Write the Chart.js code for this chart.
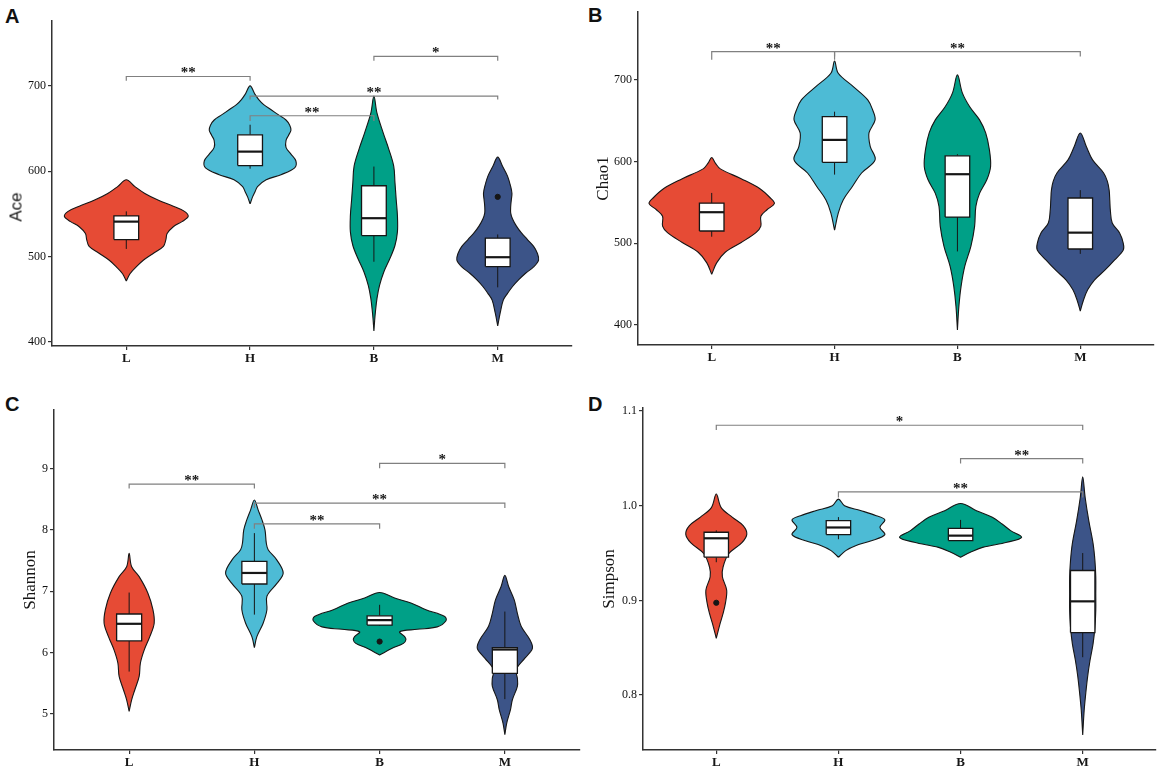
<!DOCTYPE html>
<html><head><meta charset="utf-8">
<script src="https://cdn.jsdelivr.net/npm/chart.js@4.4.0/dist/chart.umd.min.js"></script>
<style>
html,body{margin:0;padding:0;background:#fff}
body{width:1170px;height:776px;position:relative;overflow:hidden}
.panel{position:absolute}
.tag{position:absolute;font:bold 20px 'Liberation Sans',Arial,sans-serif;color:#111;line-height:1}
.ytitle{position:absolute;font:17px 'Liberation Sans',Arial,sans-serif;color:#161616;line-height:1;
  transform:translate(-50%,-50%) rotate(-90deg);white-space:nowrap}
</style></head><body>
<div class="tag" style="left:5px;top:6px">A</div>
<div class="tag" style="left:588px;top:5px">B</div>
<div class="tag" style="left:5px;top:394px">C</div>
<div class="tag" style="left:588px;top:394px">D</div>
<div class="panel" style="left:0;top:0"><canvas id="cA" width="585" height="378"></canvas></div>
<div class="panel" style="left:585px;top:0"><canvas id="cB" width="585" height="378"></canvas></div>
<div class="panel" style="left:0;top:390px"><canvas id="cC" width="585" height="386"></canvas></div>
<div class="panel" style="left:585px;top:390px"><canvas id="cD" width="585" height="386"></canvas></div>
<div class="ytitle" style="left:16px;top:207px">Ace</div>
<script>
// ---------- shared ----------
const categories = ['L', 'H', 'B', 'M'];
const categoryPositions = [1, 2, 3, 4];

// ---------- Panel A : Ace ----------
const aceViolinY = [
  [471.5, 480, 488, 496, 504, 512, 520, 527, 535, 541, 547, 553, 559, 566, 574, 582, 590],
  [561.8, 570, 576, 582, 590, 596, 604, 612, 620, 628, 636, 642, 648, 654, 660, 666, 672, 678, 684, 690, 700],
  [413, 425, 435, 451, 466, 482, 498, 513, 529, 548, 567, 587, 606, 626, 645, 668, 688],
  [418.8, 434, 449, 457, 465, 473, 480.5, 488, 496, 504, 512, 520, 528, 536, 544, 551, 559, 566.5, 574, 582, 594, 605.5, 616.5]
];
const aceViolinHalfWidth = [
  [0, 0.03, 0.08, 0.14, 0.22, 0.3, 0.32, 0.33, 0.38, 0.45, 0.5, 0.47, 0.38, 0.26, 0.15, 0.07, 0],
  [0, 0.02, 0.04, 0.06, 0.13, 0.25, 0.36, 0.37, 0.33, 0.29, 0.29, 0.31, 0.33, 0.32, 0.29, 0.23, 0.17, 0.11, 0.07, 0.04, 0],
  [0, 0.006, 0.012, 0.025, 0.045, 0.08, 0.13, 0.17, 0.19, 0.19, 0.18, 0.17, 0.16, 0.12, 0.075, 0.025, 0],
  [0, 0.02, 0.045, 0.08, 0.12, 0.17, 0.225, 0.29, 0.33, 0.32, 0.29, 0.24, 0.19, 0.15, 0.12, 0.105, 0.105, 0.11, 0.115, 0.105, 0.08, 0.04, 0]
];
const aceBoxStats = [ // [lower whisker, Q1, median, Q3, upper whisker]
  [509, 520, 541, 547.7, 553],
  [603, 606.7, 623, 642.7, 654.5],
  [494, 524.6, 545, 583, 605.5],
  [464, 488.3, 499.3, 521.6, 526]
];
const aceOutlierGroup = [4];
const aceOutlierValue = [570];
const aceBracketFrom = [1, 3, 2, 2];
const aceBracketTo = [2, 4, 4, 3];
const aceBracketY = [711, 734.5, 688, 665];
const aceBracketDrop = [5, 5, 4, 6];
const aceBracketLabel = ['**', '*', '**', '**'];
const aceTicks = [400, 500, 600, 700];
const aceTickLabels = ['400', '500', '600', '700'];

// ---------- Panel B : Chao1 ----------
const chaoViolinY = [
  [462, 476, 489, 501, 513, 521, 533, 541, 548.5, 555, 567, 579, 591, 598, 605],
  [516, 537, 553, 569.5, 586, 602, 618.6, 635, 651, 663, 675.5, 692, 708, 723],
  [394, 423, 447.6, 472, 496.6, 521, 545, 561, 578, 594, 614.6, 635, 651, 667, 684, 706],
  [417, 430, 443, 455, 467, 479.6, 491.8, 500, 512.6, 524.8, 540, 553, 565, 576, 586, 602, 618, 635]
];
const chaoViolinHalfWidth = [
  [0, 0.04, 0.11, 0.24, 0.36, 0.4, 0.4, 0.45, 0.51, 0.48, 0.39, 0.24, 0.07, 0.03, 0],
  [0, 0.03, 0.07, 0.145, 0.22, 0.33, 0.29, 0.28, 0.33, 0.31, 0.27, 0.15, 0.03, 0],
  [0, 0.012, 0.03, 0.06, 0.11, 0.14, 0.15, 0.18, 0.24, 0.27, 0.26, 0.23, 0.18, 0.1, 0.04, 0],
  [0, 0.025, 0.06, 0.115, 0.2, 0.28, 0.35, 0.35, 0.32, 0.26, 0.245, 0.24, 0.235, 0.22, 0.19, 0.1, 0.05, 0]
];
const chaoBoxStats = [
  [508, 515, 538, 549, 561.6],
  [584, 599, 626.5, 655, 661],
  [490, 532, 584.5, 607, 609],
  [487, 493, 513, 555.4, 565]
];
const chaoOutlierGroup = [];
const chaoOutlierValue = [];
const chaoBracketFrom = [1, 2];
const chaoBracketTo = [2, 4];
const chaoBracketY = [734.5, 734.5];
const chaoBracketDrop = [10, 6];
const chaoBracketLabel = ['**', '**'];
const chaoTicks = [400, 500, 600, 700];
const chaoTickLabels = ['400', '500', '600', '700'];

// ---------- Panel C : Shannon ----------
const shannonViolinY = [
  [5.04, 5.23, 5.39, 5.61, 5.83, 6.04, 6.26, 6.48, 6.70, 6.97, 7.24, 7.40, 7.62],
  [6.08, 6.26, 6.48, 6.70, 6.92, 7.13, 7.30, 7.51, 7.68, 7.79, 8.0, 8.17, 8.33, 8.49],
  [5.96, 6.07, 6.15, 6.21, 6.26, 6.34, 6.38, 6.42, 6.52, 6.59, 6.70, 6.81, 6.89, 6.98],
  [4.66, 4.85, 5.07, 5.23, 5.45, 5.58, 5.72, 5.91, 6.07, 6.21, 6.43, 6.64, 6.86, 7.08, 7.26]
];
const shannonViolinHalfWidth = [
  [0, 0.02, 0.045, 0.08, 0.09, 0.12, 0.165, 0.2, 0.19, 0.15, 0.08, 0.02, 0],
  [0, 0.02, 0.07, 0.1, 0.1, 0.18, 0.23, 0.18, 0.11, 0.095, 0.085, 0.06, 0.03, 0],
  [0, 0.1, 0.19, 0.21, 0.2, 0.16, 0.3, 0.46, 0.53, 0.52, 0.37, 0.25, 0.12, 0],
  [0, 0.015, 0.045, 0.06, 0.1, 0.1, 0.09, 0.16, 0.22, 0.2, 0.13, 0.1, 0.075, 0.03, 0]
];
const shannonBoxStats = [
  [5.69, 6.19, 6.47, 6.63, 6.98],
  [6.62, 7.12, 7.30, 7.49, 7.95],
  [6.44, 6.45, 6.53, 6.60, 6.78],
  [5.24, 5.66, 6.05, 6.08, 6.67]
];
const shannonOutlierGroup = [3];
const shannonOutlierValue = [6.18];
const shannonBracketFrom = [1, 3, 2, 2];
const shannonBracketTo = [2, 4, 4, 3];
const shannonBracketY = [8.75, 9.09, 8.44, 8.10];
const shannonBracketDrop = [0.07, 0.08, 0.08, 0.08];
const shannonBracketLabel = ['**', '*', '**', '**'];
const shannonTicks = [5, 6, 7, 8, 9];
const shannonTickLabels = ['5', '6', '7', '8', '9'];

// ---------- Panel D : Simpson ----------
const simpsonViolinY = [
  [0.860, 0.875, 0.886, 0.898, 0.911, 0.925, 0.935, 0.949, 0.961, 0.970, 0.979, 0.988, 0.998, 1.0123],
  [0.9456, 0.9526, 0.958, 0.963, 0.9695, 0.977, 0.985, 0.9895, 0.995, 1.0, 1.007],
  [0.9456, 0.9508, 0.956, 0.9614, 0.9667, 0.9737, 0.9807, 0.9877, 0.9947, 1.0024],
  [0.758, 0.784, 0.8018, 0.8193, 0.8368, 0.8544, 0.872, 0.8895, 0.907, 0.9245, 0.942, 0.96, 0.984, 1.0087, 1.0305]
];
const simpsonViolinHalfWidth = [
  [0, 0.03, 0.055, 0.076, 0.085, 0.05, 0.055, 0.1, 0.21, 0.25, 0.22, 0.13, 0.04, 0],
  [0, 0.06, 0.145, 0.27, 0.38, 0.34, 0.38, 0.31, 0.18, 0.05, 0],
  [0, 0.08, 0.18, 0.38, 0.5, 0.41, 0.34, 0.26, 0.13, 0],
  [0, 0.012, 0.025, 0.04, 0.06, 0.085, 0.1, 0.107, 0.107, 0.107, 0.1, 0.085, 0.05, 0.02, 0]
];
const simpsonBoxStats = [
  [0.9403, 0.9456, 0.9656, 0.972, 0.974],
  [0.9646, 0.9695, 0.977, 0.9842, 0.988],
  [0.9632, 0.9632, 0.9684, 0.9761, 0.985],
  [0.840, 0.866, 0.899, 0.9316, 0.95]
];
const simpsonOutlierGroup = [1];
const simpsonOutlierValue = [0.8975];
const simpsonBracketFrom = [1, 3, 2];
const simpsonBracketTo = [4, 4, 4];
const simpsonBracketY = [1.085, 1.0498, 1.0147];
const simpsonBracketDrop = [0.005, 0.0053, 0.006];
const simpsonBracketLabel = ['*', '**', '**'];
const simpsonTicks = [0.8, 0.9, 1.0, 1.1];
const simpsonTickLabels = ['0.8', '0.9', '1.0', '1.1'];

// ---------- styling ----------
const FILL = ['#E64B35', '#4DBBD5', '#00A087', '#3C5488'];
const INK = '#161616';
const BOX_HALF = 0.1;
const SERIF = "'Liberation Serif', 'Times New Roman', serif";

function starPlugin(from, to, yv, labels) {
  return {
    id: 'sigStars',
    afterDatasetsDraw(chart) {
      const {ctx, scales} = chart;
      ctx.save();
      ctx.fillStyle = INK;
      ctx.font = 'bold 15px ' + SERIF;
      ctx.textAlign = 'center';
      ctx.textBaseline = 'alphabetic';
      labels.forEach((t, i) => {
        const px = scales.x.getPixelForValue((from[i] + to[i]) / 2);
        const py = scales.y.getPixelForValue(yv[i]);
        ctx.fillText(t, px, py + 1);
      });
      ctx.restore();
    }
  };
}

function makePanel(id, p) {
  const ds = [];
  p.violinY.forEach((ys, g) => {
    const cx = categoryPositions[g];
    const hw = p.violinW[g];
    const pts = [];
    for (let i = 0; i < ys.length; i++) pts.push({x: cx - hw[i], y: ys[i]});
    for (let i = ys.length - 2; i >= 0; i--) pts.push({x: cx + hw[i], y: ys[i]});
    ds.push({data: pts, showLine: true, fill: 'shape', backgroundColor: FILL[g], borderColor: INK,
      borderWidth: 1.1, tension: 0.35, pointRadius: 0, order: 10});
    const b = p.box[g];
    ds.push({data: [{x: cx, y: b[0]}, {x: cx, y: b[1]}], showLine: true, borderColor: INK, borderWidth: 1,
      pointRadius: 0, fill: false, order: 9});
    ds.push({data: [{x: cx, y: b[3]}, {x: cx, y: b[4]}], showLine: true, borderColor: INK, borderWidth: 1,
      pointRadius: 0, fill: false, order: 9});
    ds.push({data: [{x: cx - BOX_HALF, y: b[1]}, {x: cx + BOX_HALF, y: b[1]}, {x: cx + BOX_HALF, y: b[3]},
      {x: cx - BOX_HALF, y: b[3]}, {x: cx - BOX_HALF, y: b[1]}], showLine: true, fill: 'shape',
      backgroundColor: '#ffffff', borderColor: INK, borderWidth: 1.3, tension: 0, pointRadius: 0, order: 8});
    ds.push({data: [{x: cx - BOX_HALF, y: b[2]}, {x: cx + BOX_HALF, y: b[2]}], showLine: true, borderColor: INK,
      borderWidth: 2.2, pointRadius: 0, fill: false, order: 7});
  });
  ds.push({data: p.outG.map((g, i) => ({x: categoryPositions[g - 1], y: p.outV[i]})), showLine: false,
    pointRadius: 2.6, pointBackgroundColor: INK, pointBorderColor: INK, order: 6});
  p.bFrom.forEach((f, i) => {
    const t = p.bTo[i], y = p.bY[i], d = p.bDrop[i];
    ds.push({data: [{x: f, y: y - d}, {x: f, y: y}, {x: t, y: y}, {x: t, y: y - d}], showLine: true,
      borderColor: '#808080', borderWidth: 1.2, tension: 0, pointRadius: 0, fill: false, order: 5});
  });

  new Chart(document.getElementById(id), {
    type: 'scatter',
    data: {datasets: ds},
    plugins: [starPlugin(p.bFrom, p.bTo, p.bY, p.bLabel)],
    options: {
      responsive: false,
      animation: false,
      events: [],
      layout: {padding: {top: p.padTop, right: p.padRight, left: 0, bottom: 0}},
      plugins: {legend: {display: false}, tooltip: {enabled: false}},
      scales: {
        x: {
          type: 'linear', min: 0.4, max: 4.6,
          afterBuildTicks: s => { s.ticks = categoryPositions.map(v => ({value: v})); },
          afterFit: s => { s.height = p.xH; },
          ticks: {callback: (v) => categories[categoryPositions.indexOf(v)] || '', color: INK,
            font: {family: SERIF, size: 13, weight: 'bold'}, padding: 1, autoSkip: false, maxRotation: 0},
          grid: {display: true, drawOnChartArea: false, drawTicks: true, tickLength: 4, color: '#333', lineWidth: 1.2},
          border: {display: true, color: '#333', width: 1.5}
        },
        y: {
          type: 'linear', min: p.yMin, max: p.yMax,
          afterBuildTicks: s => { s.ticks = p.ticks.map(v => ({value: v})); },
          afterFit: s => { s.width = p.yW; },
          ticks: {callback: (v) => p.tickLabels[p.ticks.indexOf(v)] ?? '', color: '#111',
            font: {family: SERIF, size: 12}, padding: 2},
          grid: {display: true, drawOnChartArea: false, drawTicks: true, tickLength: 4, color: '#333', lineWidth: 1.2},
          border: {display: true, color: '#333', width: 1.5},
          title: {display: p.title !== '', text: p.title, color: INK, font: {family: SERIF, size: 17},
            padding: {top: p.titlePad, bottom: 0}}
        }
      }
    }
  });
}

makePanel('cA', {violinY: aceViolinY, violinW: aceViolinHalfWidth, box: aceBoxStats, outG: aceOutlierGroup,
  outV: aceOutlierValue, bFrom: aceBracketFrom, bTo: aceBracketTo, bY: aceBracketY, bDrop: aceBracketDrop,
  bLabel: aceBracketLabel, ticks: aceTicks, tickLabels: aceTickLabels, title: '', titlePad: 0,
  yMin: 395.3, yMax: 776, padTop: 21, padRight: 13, yW: 52, xH: 32});
makePanel('cB', {violinY: chaoViolinY, violinW: chaoViolinHalfWidth, box: chaoBoxStats, outG: chaoOutlierGroup,
  outV: chaoOutlierValue, bFrom: chaoBracketFrom, bTo: chaoBracketTo, bY: chaoBracketY, bDrop: chaoBracketDrop,
  bLabel: chaoBracketLabel, ticks: chaoTicks, tickLabels: chaoTickLabels, title: 'Chao1', titlePad: 8,
  yMin: 375.5, yMax: 783, padTop: 12, padRight: 16, yW: 53, xH: 33});
makePanel('cC', {violinY: shannonViolinY, violinW: shannonViolinHalfWidth, box: shannonBoxStats, outG: shannonOutlierGroup,
  outV: shannonOutlierValue, bFrom: shannonBracketFrom, bTo: shannonBracketTo, bY: shannonBracketY, bDrop: shannonBracketDrop,
  bLabel: shannonBracketLabel, ticks: shannonTicks, tickLabels: shannonTickLabels, title: 'Shannon', titlePad: 20,
  yMin: 4.41, yMax: 9.96, padTop: 20, padRight: 5, yW: 54, xH: 26});
makePanel('cD', {violinY: simpsonViolinY, violinW: simpsonViolinHalfWidth, box: simpsonBoxStats, outG: simpsonOutlierGroup,
  outV: simpsonOutlierValue, bFrom: simpsonBracketFrom, bTo: simpsonBracketTo, bY: simpsonBracketY, bDrop: simpsonBracketDrop,
  bLabel: simpsonBracketLabel, ticks: simpsonTicks, tickLabels: simpsonTickLabels, title: 'Simpson', titlePad: 14,
  yMin: 0.742, yMax: 1.1032, padTop: 18, padRight: 14, yW: 58, xH: 26});
</script>
</body></html>
